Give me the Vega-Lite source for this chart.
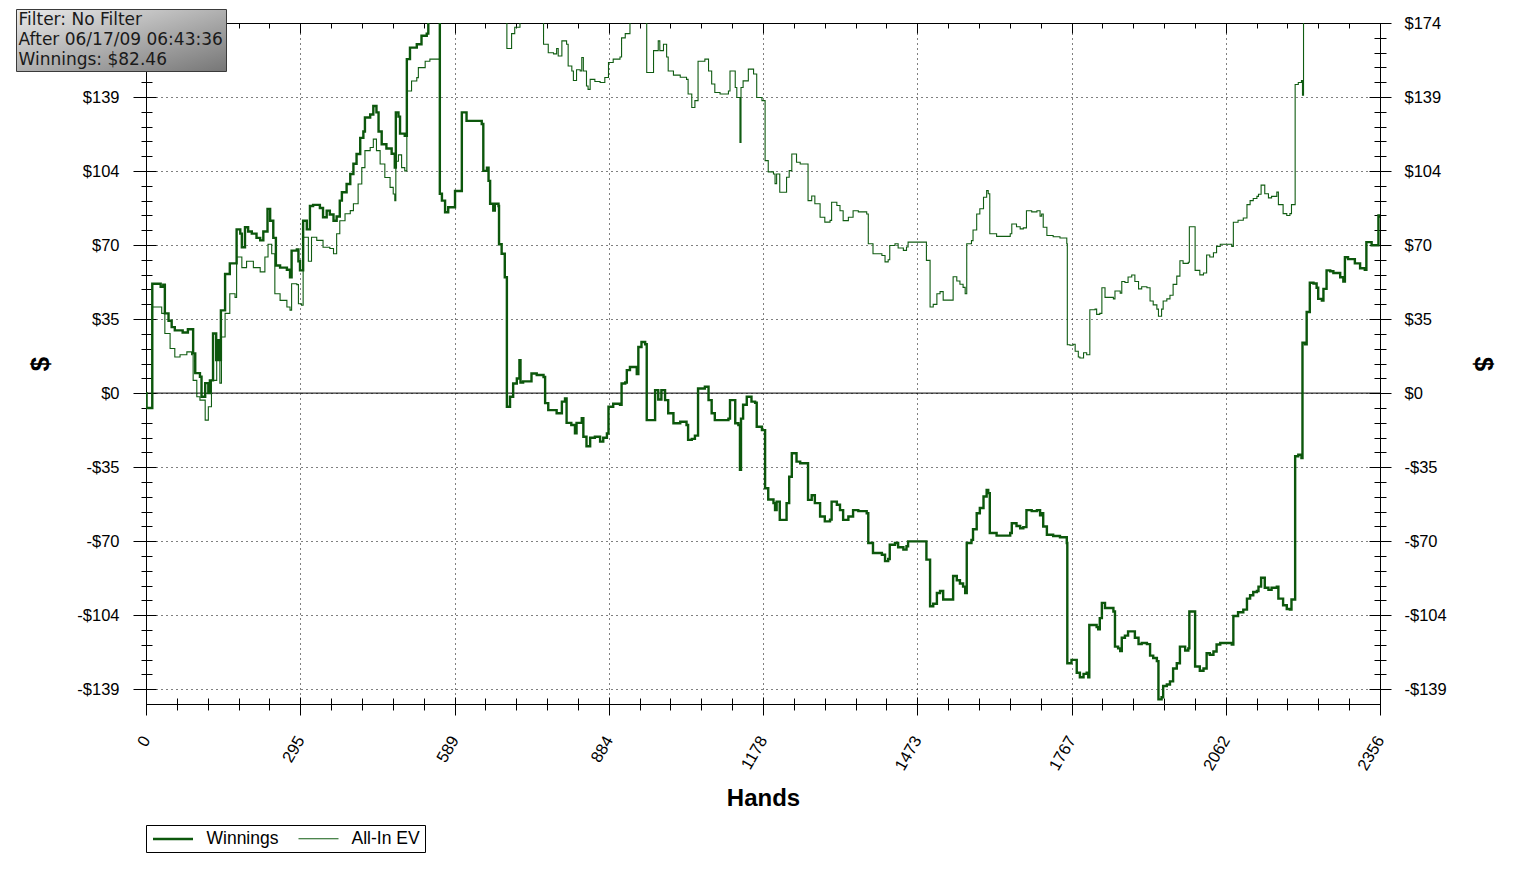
{
  "$schema": "https://vega.github.io/schema/vega-lite/v6.json",
  "width": 1234,
  "height": 681,
  "autosize": {"type": "none"},
  "padding": {"left": 146, "top": 23, "right": 144, "bottom": 170},
  "background": "white",
  "config": {
    "view": {"stroke": "#000", "strokeWidth": 1},
    "axis": {"domain": false, "grid": false, "tickColor": "#000", "tickWidth": 1, "labelFont": "Liberation Sans", "labelFontSize": 16.5, "labelColor": "#000", "labelFlush": false, "labelOverlap": false, "titleFont": "Liberation Sans", "titleFontSize": 24, "titleFontWeight": "bold", "titleColor": "#000"}
  },
  "data": {"values": [
    {"s":"All-In EV","h":0,"v":0},{"s":"All-In EV","h":1,"v":-7},{"s":"All-In EV","h":12,"v":40.5},{"s":"All-In EV","h":30,"v":37.5},{"s":"All-In EV","h":36,"v":28},{"s":"All-In EV","h":46,"v":21},{"s":"All-In EV","h":55,"v":17},{"s":"All-In EV","h":65,"v":18},{"s":"All-In EV","h":78,"v":19.4},{"s":"All-In EV","h":87,"v":18},{"s":"All-In EV","h":90,"v":6},{"s":"All-In EV","h":97,"v":-1.7},{"s":"All-In EV","h":103,"v":-3.3},{"s":"All-In EV","h":113,"v":-12.7},{"s":"All-In EV","h":119,"v":-6.4},{"s":"All-In EV","h":125,"v":6},{"s":"All-In EV","h":135,"v":15.5},{"s":"All-In EV","h":141,"v":4.7},{"s":"All-In EV","h":144,"v":26.4},{"s":"All-In EV","h":151,"v":37.5},{"s":"All-In EV","h":160,"v":46.7},{"s":"All-In EV","h":170,"v":45},{"s":"All-In EV","h":173,"v":64},{"s":"All-In EV","h":183,"v":59},{"s":"All-In EV","h":192,"v":62},{"s":"All-In EV","h":205,"v":59},{"s":"All-In EV","h":218,"v":57},{"s":"All-In EV","h":227,"v":64},{"s":"All-In EV","h":233,"v":70},{"s":"All-In EV","h":240,"v":65.5},{"s":"All-In EV","h":246,"v":46.7},{"s":"All-In EV","h":256,"v":43.6},{"s":"All-In EV","h":269,"v":40.5},{"s":"All-In EV","h":275,"v":39},{"s":"All-In EV","h":278,"v":51.4},{"s":"All-In EV","h":288,"v":51},{"s":"All-In EV","h":291,"v":42},{"s":"All-In EV","h":297,"v":41.3},{"s":"All-In EV","h":300,"v":73.3},{"s":"All-In EV","h":310,"v":62},{"s":"All-In EV","h":316,"v":73.3},{"s":"All-In EV","h":326,"v":71.8},{"s":"All-In EV","h":338,"v":68.6},{"s":"All-In EV","h":351,"v":68},{"s":"All-In EV","h":358,"v":65.5},{"s":"All-In EV","h":364,"v":74.9},{"s":"All-In EV","h":370,"v":81},{"s":"All-In EV","h":380,"v":84.3},{"s":"All-In EV","h":390,"v":85.8},{"s":"All-In EV","h":396,"v":89},{"s":"All-In EV","h":405,"v":98.3},{"s":"All-In EV","h":412,"v":106},{"s":"All-In EV","h":418,"v":114},{"s":"All-In EV","h":428,"v":115.5},{"s":"All-In EV","h":434,"v":119.4},{"s":"All-In EV","h":440,"v":114},{"s":"All-In EV","h":447,"v":107.7},{"s":"All-In EV","h":456,"v":101.4},{"s":"All-In EV","h":466,"v":96.7},{"s":"All-In EV","h":472,"v":93.6},{"s":"All-In EV","h":475,"v":90.5},{"s":"All-In EV","h":477,"v":109},{"s":"All-In EV","h":482,"v":112},{"s":"All-In EV","h":488,"v":106},{"s":"All-In EV","h":494,"v":104.5},{"s":"All-In EV","h":498,"v":142},{"s":"All-In EV","h":507,"v":146.7},{"s":"All-In EV","h":517,"v":148.3},{"s":"All-In EV","h":520,"v":153},{"s":"All-In EV","h":533,"v":156},{"s":"All-In EV","h":542,"v":157},{"s":"All-In EV","h":561,"v":188},{"s":"All-In EV","h":600,"v":196},{"s":"All-In EV","h":640,"v":192},{"s":"All-In EV","h":689,"v":162},{"s":"All-In EV","h":698,"v":169},{"s":"All-In EV","h":704,"v":172},{"s":"All-In EV","h":714,"v":178},{"s":"All-In EV","h":759,"v":164},{"s":"All-In EV","h":768,"v":160},{"s":"All-In EV","h":778,"v":159.5},{"s":"All-In EV","h":784,"v":162},{"s":"All-In EV","h":787,"v":158.5},{"s":"All-In EV","h":794,"v":165.6},{"s":"All-In EV","h":803,"v":164},{"s":"All-In EV","h":806,"v":153.8},{"s":"All-In EV","h":813,"v":151.4},{"s":"All-In EV","h":816,"v":147},{"s":"All-In EV","h":822,"v":152},{"s":"All-In EV","h":829,"v":151.4},{"s":"All-In EV","h":832,"v":157.8},{"s":"All-In EV","h":835,"v":151.4},{"s":"All-In EV","h":841,"v":144.4},{"s":"All-In EV","h":844,"v":142.8},{"s":"All-In EV","h":848,"v":147.5},{"s":"All-In EV","h":857,"v":146.5},{"s":"All-In EV","h":867,"v":146},{"s":"All-In EV","h":876,"v":148.4},{"s":"All-In EV","h":883,"v":155.4},{"s":"All-In EV","h":892,"v":157},{"s":"All-In EV","h":905,"v":158},{"s":"All-In EV","h":908,"v":167},{"s":"All-In EV","h":915,"v":169},{"s":"All-In EV","h":924,"v":178},{"s":"All-In EV","h":956,"v":150.7},{"s":"All-In EV","h":966,"v":150.7},{"s":"All-In EV","h":969,"v":161},{"s":"All-In EV","h":978,"v":165.6},{"s":"All-In EV","h":981,"v":161},{"s":"All-In EV","h":988,"v":164},{"s":"All-In EV","h":994,"v":158},{"s":"All-In EV","h":997,"v":151.4},{"s":"All-In EV","h":1007,"v":149.5},{"s":"All-In EV","h":1020,"v":148.5},{"s":"All-In EV","h":1032,"v":147.5},{"s":"All-In EV","h":1035,"v":140.6},{"s":"All-In EV","h":1042,"v":134.3},{"s":"All-In EV","h":1048,"v":137.5},{"s":"All-In EV","h":1054,"v":156},{"s":"All-In EV","h":1067,"v":157},{"s":"All-In EV","h":1074,"v":151.4},{"s":"All-In EV","h":1080,"v":145.3},{"s":"All-In EV","h":1086,"v":141.3},{"s":"All-In EV","h":1096,"v":140.6},{"s":"All-In EV","h":1112,"v":142},{"s":"All-In EV","h":1115,"v":151.4},{"s":"All-In EV","h":1125,"v":143.7},{"s":"All-In EV","h":1128,"v":139},{"s":"All-In EV","h":1134,"v":117.9},{"s":"All-In EV","h":1136,"v":143.7},{"s":"All-In EV","h":1140,"v":146.8},{"s":"All-In EV","h":1150,"v":152.3},{"s":"All-In EV","h":1160,"v":150},{"s":"All-In EV","h":1166,"v":139},{"s":"All-In EV","h":1176,"v":137.5},{"s":"All-In EV","h":1182,"v":109.3},{"s":"All-In EV","h":1188,"v":104},{"s":"All-In EV","h":1198,"v":103},{"s":"All-In EV","h":1201,"v":98.5},{"s":"All-In EV","h":1204,"v":103},{"s":"All-In EV","h":1210,"v":94.4},{"s":"All-In EV","h":1223,"v":101.5},{"s":"All-In EV","h":1228,"v":104.6},{"s":"All-In EV","h":1233,"v":112.4},{"s":"All-In EV","h":1242,"v":108.5},{"s":"All-In EV","h":1249,"v":107.7},{"s":"All-In EV","h":1264,"v":90.5},{"s":"All-In EV","h":1271,"v":92.7},{"s":"All-In EV","h":1277,"v":89},{"s":"All-In EV","h":1287,"v":82.7},{"s":"All-In EV","h":1296,"v":80.4},{"s":"All-In EV","h":1306,"v":81.2},{"s":"All-In EV","h":1309,"v":89.7},{"s":"All-In EV","h":1319,"v":88.2},{"s":"All-In EV","h":1325,"v":85.7},{"s":"All-In EV","h":1331,"v":81.1},{"s":"All-In EV","h":1341,"v":82.7},{"s":"All-In EV","h":1350,"v":85.7},{"s":"All-In EV","h":1360,"v":85.2},{"s":"All-In EV","h":1376,"v":84.2},{"s":"All-In EV","h":1379,"v":70.2},{"s":"All-In EV","h":1388,"v":65.5},{"s":"All-In EV","h":1405,"v":64.7},{"s":"All-In EV","h":1411,"v":61.7},{"s":"All-In EV","h":1417,"v":62.7},{"s":"All-In EV","h":1420,"v":69.4},{"s":"All-In EV","h":1430,"v":70.2},{"s":"All-In EV","h":1436,"v":68.2},{"s":"All-In EV","h":1446,"v":67.1},{"s":"All-In EV","h":1452,"v":68.7},{"s":"All-In EV","h":1455,"v":71},{"s":"All-In EV","h":1490,"v":62.4},{"s":"All-In EV","h":1497,"v":40.5},{"s":"All-In EV","h":1503,"v":41.7},{"s":"All-In EV","h":1510,"v":46.7},{"s":"All-In EV","h":1516,"v":47.7},{"s":"All-In EV","h":1522,"v":43.7},{"s":"All-In EV","h":1541,"v":54.7},{"s":"All-In EV","h":1548,"v":52.7},{"s":"All-In EV","h":1554,"v":51.2},{"s":"All-In EV","h":1560,"v":49.7},{"s":"All-In EV","h":1564,"v":46.7},{"s":"All-In EV","h":1567,"v":70.2},{"s":"All-In EV","h":1576,"v":71.7},{"s":"All-In EV","h":1579,"v":76.7},{"s":"All-In EV","h":1586,"v":84.2},{"s":"All-In EV","h":1592,"v":86.7},{"s":"All-In EV","h":1599,"v":92.1},{"s":"All-In EV","h":1605,"v":95.2},{"s":"All-In EV","h":1608,"v":93.7},{"s":"All-In EV","h":1611,"v":74.9},{"s":"All-In EV","h":1624,"v":73.7},{"s":"All-In EV","h":1643,"v":73.7},{"s":"All-In EV","h":1650,"v":74.9},{"s":"All-In EV","h":1653,"v":79.5},{"s":"All-In EV","h":1662,"v":78.2},{"s":"All-In EV","h":1669,"v":77.2},{"s":"All-In EV","h":1675,"v":77.7},{"s":"All-In EV","h":1681,"v":85.7},{"s":"All-In EV","h":1691,"v":85.2},{"s":"All-In EV","h":1701,"v":85.7},{"s":"All-In EV","h":1707,"v":83.2},{"s":"All-In EV","h":1710,"v":84.2},{"s":"All-In EV","h":1713,"v":78},{"s":"All-In EV","h":1720,"v":74.1},{"s":"All-In EV","h":1732,"v":73.5},{"s":"All-In EV","h":1745,"v":72.9},{"s":"All-In EV","h":1758,"v":70.2},{"s":"All-In EV","h":1759,"v":22.7},{"s":"All-In EV","h":1764,"v":22.5},{"s":"All-In EV","h":1770,"v":23},{"s":"All-In EV","h":1774,"v":19.7},{"s":"All-In EV","h":1780,"v":17},{"s":"All-In EV","h":1783,"v":16.5},{"s":"All-In EV","h":1790,"v":19},{"s":"All-In EV","h":1796,"v":18},{"s":"All-In EV","h":1802,"v":39.2},{"s":"All-In EV","h":1812,"v":39.5},{"s":"All-In EV","h":1815,"v":37},{"s":"All-In EV","h":1821,"v":37.5},{"s":"All-In EV","h":1825,"v":49.5},{"s":"All-In EV","h":1831,"v":45},{"s":"All-In EV","h":1847,"v":44.3},{"s":"All-In EV","h":1850,"v":48},{"s":"All-In EV","h":1860,"v":47},{"s":"All-In EV","h":1863,"v":52.5},{"s":"All-In EV","h":1869,"v":52},{"s":"All-In EV","h":1875,"v":54.6},{"s":"All-In EV","h":1882,"v":55.5},{"s":"All-In EV","h":1888,"v":52.5},{"s":"All-In EV","h":1895,"v":49},{"s":"All-In EV","h":1901,"v":50},{"s":"All-In EV","h":1911,"v":49.5},{"s":"All-In EV","h":1917,"v":43.3},{"s":"All-In EV","h":1923,"v":41.5},{"s":"All-In EV","h":1930,"v":39.5},{"s":"All-In EV","h":1933,"v":36.1},{"s":"All-In EV","h":1939,"v":39.5},{"s":"All-In EV","h":1942,"v":43.3},{"s":"All-In EV","h":1949,"v":44.3},{"s":"All-In EV","h":1955,"v":46},{"s":"All-In EV","h":1961,"v":51.1},{"s":"All-In EV","h":1968,"v":55},{"s":"All-In EV","h":1974,"v":62.2},{"s":"All-In EV","h":1980,"v":61},{"s":"All-In EV","h":1990,"v":61.5},{"s":"All-In EV","h":1992,"v":78.2},{"s":"All-In EV","h":2000,"v":78.2},{"s":"All-In EV","h":2003,"v":57.7},{"s":"All-In EV","h":2012,"v":55.6},{"s":"All-In EV","h":2019,"v":56.5},{"s":"All-In EV","h":2025,"v":64.9},{"s":"All-In EV","h":2031,"v":64},{"s":"All-In EV","h":2038,"v":66},{"s":"All-In EV","h":2044,"v":69},{"s":"All-In EV","h":2051,"v":70},{"s":"All-In EV","h":2073,"v":69},{"s":"All-In EV","h":2076,"v":80.3},{"s":"All-In EV","h":2085,"v":81.3},{"s":"All-In EV","h":2095,"v":82.3},{"s":"All-In EV","h":2102,"v":88.6},{"s":"All-In EV","h":2108,"v":90.5},{"s":"All-In EV","h":2114,"v":91.5},{"s":"All-In EV","h":2121,"v":92.5},{"s":"All-In EV","h":2124,"v":93.5},{"s":"All-In EV","h":2129,"v":97.8},{"s":"All-In EV","h":2136,"v":93.7},{"s":"All-In EV","h":2143,"v":91.8},{"s":"All-In EV","h":2149,"v":92.5},{"s":"All-In EV","h":2159,"v":94.5},{"s":"All-In EV","h":2162,"v":88.6},{"s":"All-In EV","h":2171,"v":84.4},{"s":"All-In EV","h":2178,"v":83.5},{"s":"All-In EV","h":2184,"v":84.4},{"s":"All-In EV","h":2187,"v":88.6},{"s":"All-In EV","h":2194,"v":145.1},{"s":"All-In EV","h":2200,"v":146},{"s":"All-In EV","h":2206,"v":147},{"s":"All-In EV","h":2208,"v":140},{"s":"All-In EV","h":2210,"v":199},{"s":"All-In EV","h":2216,"v":213},{"s":"All-In EV","h":2222,"v":227},{"s":"All-In EV","h":2235,"v":224.5},{"s":"All-In EV","h":2238,"v":219},{"s":"All-In EV","h":2248,"v":224},{"s":"All-In EV","h":2254,"v":232.7},{"s":"All-In EV","h":2280,"v":229.5},{"s":"All-In EV","h":2289,"v":239},{"s":"All-In EV","h":2318,"v":233.7},{"s":"All-In EV","h":2330,"v":246},{"s":"All-In EV","h":2353,"v":258.5},{"s":"All-In EV","h":2356,"v":257.5},
    {"s":"Winnings","h":0,"v":0},{"s":"Winnings","h":1,"v":-7},{"s":"Winnings","h":12,"v":51.4},{"s":"Winnings","h":28,"v":50},{"s":"Winnings","h":33,"v":51},{"s":"Winnings","h":36,"v":37.5},{"s":"Winnings","h":43,"v":34},{"s":"Winnings","h":49,"v":31},{"s":"Winnings","h":55,"v":29.5},{"s":"Winnings","h":70,"v":28.5},{"s":"Winnings","h":80,"v":30},{"s":"Winnings","h":90,"v":18.7},{"s":"Winnings","h":94,"v":9.4},{"s":"Winnings","h":103,"v":7.7},{"s":"Winnings","h":106,"v":-1.7},{"s":"Winnings","h":113,"v":4.7},{"s":"Winnings","h":119,"v":0},{"s":"Winnings","h":122,"v":6},{"s":"Winnings","h":128,"v":28},{"s":"Winnings","h":134,"v":15.5},{"s":"Winnings","h":138,"v":24.9},{"s":"Winnings","h":141,"v":15.5},{"s":"Winnings","h":143,"v":38.9},{"s":"Winnings","h":151,"v":56},{"s":"Winnings","h":160,"v":61},{"s":"Winnings","h":173,"v":77},{"s":"Winnings","h":180,"v":75},{"s":"Winnings","h":183,"v":68.6},{"s":"Winnings","h":189,"v":78},{"s":"Winnings","h":195,"v":76},{"s":"Winnings","h":202,"v":75},{"s":"Winnings","h":211,"v":73},{"s":"Winnings","h":218,"v":71.8},{"s":"Winnings","h":224,"v":76},{"s":"Winnings","h":232,"v":86.6},{"s":"Winnings","h":237,"v":81},{"s":"Winnings","h":243,"v":73},{"s":"Winnings","h":248,"v":60},{"s":"Winnings","h":256,"v":59},{"s":"Winnings","h":269,"v":58},{"s":"Winnings","h":275,"v":54.5},{"s":"Winnings","h":278,"v":67},{"s":"Winnings","h":288,"v":67.5},{"s":"Winnings","h":291,"v":62},{"s":"Winnings","h":294,"v":57.7},{"s":"Winnings","h":300,"v":81},{"s":"Winnings","h":307,"v":77},{"s":"Winnings","h":313,"v":88},{"s":"Winnings","h":319,"v":88.5},{"s":"Winnings","h":332,"v":87},{"s":"Winnings","h":338,"v":82.7},{"s":"Winnings","h":345,"v":85.8},{"s":"Winnings","h":351,"v":84},{"s":"Winnings","h":358,"v":81},{"s":"Winnings","h":364,"v":83},{"s":"Winnings","h":370,"v":90.5},{"s":"Winnings","h":374,"v":94.4},{"s":"Winnings","h":383,"v":98.3},{"s":"Winnings","h":390,"v":103},{"s":"Winnings","h":396,"v":107.8},{"s":"Winnings","h":402,"v":112.4},{"s":"Winnings","h":409,"v":120},{"s":"Winnings","h":415,"v":123},{"s":"Winnings","h":418,"v":129.6},{"s":"Winnings","h":428,"v":131},{"s":"Winnings","h":434,"v":135},{"s":"Winnings","h":440,"v":132},{"s":"Winnings","h":444,"v":123},{"s":"Winnings","h":450,"v":117},{"s":"Winnings","h":459,"v":115},{"s":"Winnings","h":469,"v":112.5},{"s":"Winnings","h":475,"v":106},{"s":"Winnings","h":477,"v":132},{"s":"Winnings","h":482,"v":130},{"s":"Winnings","h":485,"v":122},{"s":"Winnings","h":494,"v":121},{"s":"Winnings","h":498,"v":157},{"s":"Winnings","h":504,"v":162.4},{"s":"Winnings","h":517,"v":164},{"s":"Winnings","h":526,"v":168},{"s":"Winnings","h":536,"v":169},{"s":"Winnings","h":539,"v":176},{"s":"Winnings","h":545,"v":182},{"s":"Winnings","h":552,"v":186},{"s":"Winnings","h":561,"v":93.7},{"s":"Winnings","h":565,"v":90.5},{"s":"Winnings","h":571,"v":85},{"s":"Winnings","h":577,"v":87.4},{"s":"Winnings","h":590,"v":95},{"s":"Winnings","h":603,"v":132},{"s":"Winnings","h":612,"v":128},{"s":"Winnings","h":641,"v":126.5},{"s":"Winnings","h":644,"v":104.5},{"s":"Winnings","h":651,"v":106},{"s":"Winnings","h":654,"v":99.8},{"s":"Winnings","h":657,"v":89},{"s":"Winnings","h":663,"v":85.8},{"s":"Winnings","h":666,"v":89},{"s":"Winnings","h":673,"v":88},{"s":"Winnings","h":674,"v":70},{"s":"Winnings","h":679,"v":65.5},{"s":"Winnings","h":685,"v":54.5},{"s":"Winnings","h":689,"v":-6.4},{"s":"Winnings","h":695,"v":-1.7},{"s":"Winnings","h":701,"v":4.5},{"s":"Winnings","h":708,"v":6.9},{"s":"Winnings","h":713,"v":15.5},{"s":"Winnings","h":715,"v":5},{"s":"Winnings","h":720,"v":5.5},{"s":"Winnings","h":736,"v":9.2},{"s":"Winnings","h":746,"v":8.5},{"s":"Winnings","h":759,"v":7.6},{"s":"Winnings","h":762,"v":-4.7},{"s":"Winnings","h":768,"v":-8},{"s":"Winnings","h":784,"v":-9.5},{"s":"Winnings","h":794,"v":-4},{"s":"Winnings","h":800,"v":-2.5},{"s":"Winnings","h":803,"v":-14},{"s":"Winnings","h":812,"v":-15},{"s":"Winnings","h":819,"v":-18.9},{"s":"Winnings","h":822,"v":-14},{"s":"Winnings","h":832,"v":-11.8},{"s":"Winnings","h":835,"v":-20.5},{"s":"Winnings","h":841,"v":-25},{"s":"Winnings","h":848,"v":-21},{"s":"Winnings","h":857,"v":-20.5},{"s":"Winnings","h":867,"v":-22.8},{"s":"Winnings","h":873,"v":-21},{"s":"Winnings","h":880,"v":-19},{"s":"Winnings","h":883,"v":-6.4},{"s":"Winnings","h":892,"v":-5},{"s":"Winnings","h":905,"v":-5.5},{"s":"Winnings","h":908,"v":4.5},{"s":"Winnings","h":915,"v":5},{"s":"Winnings","h":918,"v":10.8},{"s":"Winnings","h":924,"v":12.3},{"s":"Winnings","h":934,"v":12.3},{"s":"Winnings","h":937,"v":9},{"s":"Winnings","h":940,"v":21.7},{"s":"Winnings","h":946,"v":24},{"s":"Winnings","h":953,"v":23},{"s":"Winnings","h":956,"v":-12.7},{"s":"Winnings","h":969,"v":-12.7},{"s":"Winnings","h":972,"v":1.4},{"s":"Winnings","h":978,"v":-3},{"s":"Winnings","h":984,"v":1.4},{"s":"Winnings","h":991,"v":-3.3},{"s":"Winnings","h":997,"v":-9.5},{"s":"Winnings","h":1007,"v":-14.2},{"s":"Winnings","h":1020,"v":-13.5},{"s":"Winnings","h":1032,"v":-15},{"s":"Winnings","h":1035,"v":-22},{"s":"Winnings","h":1042,"v":-21.5},{"s":"Winnings","h":1048,"v":-20},{"s":"Winnings","h":1054,"v":2.2},{"s":"Winnings","h":1067,"v":3},{"s":"Winnings","h":1074,"v":-3.3},{"s":"Winnings","h":1080,"v":-9.5},{"s":"Winnings","h":1086,"v":-12.7},{"s":"Winnings","h":1112,"v":-12},{"s":"Winnings","h":1115,"v":-3.3},{"s":"Winnings","h":1121,"v":-3.3},{"s":"Winnings","h":1125,"v":-14.2},{"s":"Winnings","h":1131,"v":-15},{"s":"Winnings","h":1134,"v":-36},{"s":"Winnings","h":1136,"v":-12},{"s":"Winnings","h":1140,"v":-5.5},{"s":"Winnings","h":1147,"v":-1.7},{"s":"Winnings","h":1156,"v":-4},{"s":"Winnings","h":1163,"v":-4.5},{"s":"Winnings","h":1166,"v":-15.8},{"s":"Winnings","h":1176,"v":-17.4},{"s":"Winnings","h":1182,"v":-44.7},{"s":"Winnings","h":1188,"v":-50},{"s":"Winnings","h":1198,"v":-51.7},{"s":"Winnings","h":1201,"v":-55},{"s":"Winnings","h":1204,"v":-51},{"s":"Winnings","h":1210,"v":-59.6},{"s":"Winnings","h":1223,"v":-51.7},{"s":"Winnings","h":1228,"v":-39.3},{"s":"Winnings","h":1233,"v":-28.3},{"s":"Winnings","h":1242,"v":-32.2},{"s":"Winnings","h":1249,"v":-33},{"s":"Winnings","h":1264,"v":-50.2},{"s":"Winnings","h":1271,"v":-48},{"s":"Winnings","h":1277,"v":-51.7},{"s":"Winnings","h":1287,"v":-58},{"s":"Winnings","h":1296,"v":-60.3},{"s":"Winnings","h":1306,"v":-59.5},{"s":"Winnings","h":1309,"v":-51},{"s":"Winnings","h":1319,"v":-52.5},{"s":"Winnings","h":1325,"v":-55},{"s":"Winnings","h":1331,"v":-59.6},{"s":"Winnings","h":1341,"v":-58},{"s":"Winnings","h":1350,"v":-55},{"s":"Winnings","h":1360,"v":-55.5},{"s":"Winnings","h":1376,"v":-56.5},{"s":"Winnings","h":1379,"v":-70.5},{"s":"Winnings","h":1388,"v":-75.2},{"s":"Winnings","h":1405,"v":-76},{"s":"Winnings","h":1411,"v":-79},{"s":"Winnings","h":1417,"v":-78},{"s":"Winnings","h":1420,"v":-71.3},{"s":"Winnings","h":1430,"v":-70.5},{"s":"Winnings","h":1436,"v":-72.5},{"s":"Winnings","h":1446,"v":-73.6},{"s":"Winnings","h":1452,"v":-72},{"s":"Winnings","h":1455,"v":-69.7},{"s":"Winnings","h":1490,"v":-78.3},{"s":"Winnings","h":1497,"v":-100.2},{"s":"Winnings","h":1503,"v":-99},{"s":"Winnings","h":1510,"v":-94},{"s":"Winnings","h":1516,"v":-93},{"s":"Winnings","h":1522,"v":-97},{"s":"Winnings","h":1541,"v":-86},{"s":"Winnings","h":1548,"v":-88},{"s":"Winnings","h":1554,"v":-89.5},{"s":"Winnings","h":1560,"v":-91},{"s":"Winnings","h":1564,"v":-94},{"s":"Winnings","h":1567,"v":-70.5},{"s":"Winnings","h":1576,"v":-69},{"s":"Winnings","h":1579,"v":-64},{"s":"Winnings","h":1586,"v":-56.5},{"s":"Winnings","h":1592,"v":-54},{"s":"Winnings","h":1599,"v":-48.6},{"s":"Winnings","h":1605,"v":-45.5},{"s":"Winnings","h":1608,"v":-47},{"s":"Winnings","h":1611,"v":-65.8},{"s":"Winnings","h":1624,"v":-67},{"s":"Winnings","h":1643,"v":-67},{"s":"Winnings","h":1650,"v":-65.8},{"s":"Winnings","h":1653,"v":-61.2},{"s":"Winnings","h":1662,"v":-62.5},{"s":"Winnings","h":1669,"v":-63.5},{"s":"Winnings","h":1675,"v":-63},{"s":"Winnings","h":1681,"v":-55},{"s":"Winnings","h":1691,"v":-55.5},{"s":"Winnings","h":1701,"v":-55},{"s":"Winnings","h":1707,"v":-57.5},{"s":"Winnings","h":1710,"v":-56.5},{"s":"Winnings","h":1713,"v":-62.7},{"s":"Winnings","h":1720,"v":-66.6},{"s":"Winnings","h":1732,"v":-67.2},{"s":"Winnings","h":1745,"v":-67.8},{"s":"Winnings","h":1758,"v":-70.5},{"s":"Winnings","h":1759,"v":-127},{"s":"Winnings","h":1767,"v":-125.4},{"s":"Winnings","h":1777,"v":-131.5},{"s":"Winnings","h":1783,"v":-133.6},{"s":"Winnings","h":1790,"v":-132},{"s":"Winnings","h":1796,"v":-131.5},{"s":"Winnings","h":1799,"v":-133.6},{"s":"Winnings","h":1801,"v":-109},{"s":"Winnings","h":1815,"v":-110},{"s":"Winnings","h":1818,"v":-111},{"s":"Winnings","h":1821,"v":-105.8},{"s":"Winnings","h":1825,"v":-98.6},{"s":"Winnings","h":1831,"v":-101},{"s":"Winnings","h":1847,"v":-102.7},{"s":"Winnings","h":1850,"v":-119.2},{"s":"Winnings","h":1856,"v":-120},{"s":"Winnings","h":1860,"v":-121.3},{"s":"Winnings","h":1863,"v":-115},{"s":"Winnings","h":1869,"v":-114},{"s":"Winnings","h":1875,"v":-112},{"s":"Winnings","h":1882,"v":-112},{"s":"Winnings","h":1888,"v":-115},{"s":"Winnings","h":1895,"v":-118},{"s":"Winnings","h":1901,"v":-117.5},{"s":"Winnings","h":1911,"v":-118},{"s":"Winnings","h":1917,"v":-123.4},{"s":"Winnings","h":1923,"v":-124.5},{"s":"Winnings","h":1930,"v":-126},{"s":"Winnings","h":1933,"v":-144},{"s":"Winnings","h":1939,"v":-143},{"s":"Winnings","h":1942,"v":-137.7},{"s":"Winnings","h":1949,"v":-137},{"s":"Winnings","h":1955,"v":-135.5},{"s":"Winnings","h":1961,"v":-129.5},{"s":"Winnings","h":1968,"v":-127},{"s":"Winnings","h":1974,"v":-119.2},{"s":"Winnings","h":1984,"v":-121},{"s":"Winnings","h":1990,"v":-120},{"s":"Winnings","h":1992,"v":-102.7},{"s":"Winnings","h":2000,"v":-102.7},{"s":"Winnings","h":2003,"v":-128.5},{"s":"Winnings","h":2012,"v":-130.5},{"s":"Winnings","h":2019,"v":-129.5},{"s":"Winnings","h":2025,"v":-122.3},{"s":"Winnings","h":2031,"v":-123},{"s":"Winnings","h":2038,"v":-121.5},{"s":"Winnings","h":2044,"v":-118.2},{"s":"Winnings","h":2051,"v":-117.5},{"s":"Winnings","h":2073,"v":-118.2},{"s":"Winnings","h":2076,"v":-104.8},{"s":"Winnings","h":2085,"v":-103},{"s":"Winnings","h":2095,"v":-101.8},{"s":"Winnings","h":2102,"v":-96.6},{"s":"Winnings","h":2108,"v":-95},{"s":"Winnings","h":2114,"v":-93.5},{"s":"Winnings","h":2121,"v":-93},{"s":"Winnings","h":2124,"v":-91},{"s":"Winnings","h":2129,"v":-86.8},{"s":"Winnings","h":2136,"v":-91.5},{"s":"Winnings","h":2143,"v":-92.5},{"s":"Winnings","h":2149,"v":-91.5},{"s":"Winnings","h":2159,"v":-91},{"s":"Winnings","h":2162,"v":-96.6},{"s":"Winnings","h":2171,"v":-99.7},{"s":"Winnings","h":2178,"v":-101.5},{"s":"Winnings","h":2184,"v":-101.8},{"s":"Winnings","h":2187,"v":-97},{"s":"Winnings","h":2194,"v":-29.7},{"s":"Winnings","h":2200,"v":-29},{"s":"Winnings","h":2206,"v":-30.5},{"s":"Winnings","h":2208,"v":23.7},{"s":"Winnings","h":2213,"v":23},{"s":"Winnings","h":2216,"v":38.1},{"s":"Winnings","h":2222,"v":51.9},{"s":"Winnings","h":2229,"v":51.5},{"s":"Winnings","h":2235,"v":49.5},{"s":"Winnings","h":2238,"v":44.3},{"s":"Winnings","h":2245,"v":43.5},{"s":"Winnings","h":2248,"v":49},{"s":"Winnings","h":2254,"v":57.7},{"s":"Winnings","h":2261,"v":57.3},{"s":"Winnings","h":2267,"v":56.5},{"s":"Winnings","h":2280,"v":54.5},{"s":"Winnings","h":2286,"v":52.5},{"s":"Winnings","h":2289,"v":63.9},{"s":"Winnings","h":2295,"v":63},{"s":"Winnings","h":2302,"v":63},{"s":"Winnings","h":2308,"v":61},{"s":"Winnings","h":2318,"v":58.7},{"s":"Winnings","h":2327,"v":58},{"s":"Winnings","h":2330,"v":71},{"s":"Winnings","h":2340,"v":69.5},{"s":"Winnings","h":2350,"v":69.5},{"s":"Winnings","h":2353,"v":83.5},{"s":"Winnings","h":2356,"v":82.46}
  ]},
  "layer": [
    {
      "data": {"values": [{"zero": 0}]},
      "mark": {"type": "rule", "color": "#000", "strokeWidth": 1},
      "encoding": {
        "y": {"field": "zero", "type": "quantitative", "axis": null}
      }
    },
    {
      "mark": {"type": "line", "interpolate": "step-after", "clip": true},
      "encoding": {
        "x": {
          "field": "h", "type": "quantitative",
          "scale": {"domain": [0, 2356], "nice": false, "zero": false},
          "axis": {
            "orient": "bottom", "title": "Hands",
            "values": [0, 294.5, 589, 883.5, 1178, 1472.5, 1767, 2061.5, 2356],
            "format": ".0f", "labelAngle": -60, "labelAlign": "right", "labelBaseline": "middle",
            "tickSize": 11, "labelPadding": 22,
            "grid": true, "gridColor": "#000", "gridDash": [1, 4], "gridWidth": 1,
            "titleX": 617, "titleY": 101, "titleBaseline": "alphabetic", "titleAlign": "center",
            "encoding": {"ticks": {"y": {"value": -7}}}
          }
        },
        "y": {
          "field": "v", "type": "quantitative",
          "scale": {"domain": [-146.16, 174], "nice": false, "zero": false},
          "axis": {
            "orient": "left", "title": "$",
            "values": [-139.2, -104.4, -69.6, -34.8, 0, 34.8, 69.6, 104.4, 139.2, 174],
            "labelExpr": "datum.value > 170 ? '' : datum.value < 0 ? '-$' + format(-datum.value, '.0f') : '$' + format(datum.value, '.0f')",
            "tickSize": 13, "labelPadding": 14,
            "grid": true, "gridColor": "#000", "gridDash": [1, 4], "gridWidth": 1,
            "titleX": -106, "titleY": 340.5, "titleAngle": -90, "titleBaseline": "middle", "titleAlign": "center", "titleFontSize": 26,
            "encoding": {"ticks": {"x": {"value": 10}}}
          }
        },
        "color": {
          "field": "s", "type": "nominal",
          "scale": {"domain": ["Winnings", "All-In EV"], "range": ["#0c570c", "#105c12"]},
          "legend": {
            "orient": "none", "legendX": 0, "legendY": 802, "direction": "horizontal", "title": null,
            "fillColor": "#fff", "strokeColor": "#000", "padding": 4.5,
            "symbolType": "M-2.5,0H2.5", "symbolSize": 256, "symbolOffset": 13,
            "labelFont": "Liberation Sans", "labelFontSize": 17.5, "labelColor": "#000",
            "labelOffset": 24, "columnPadding": 17, "zindex": 2,
            "labelExpr": "datum.label == 'All-In EV' ? 'All-In EV\u00a0\u00a0\u00a0' : datum.label"
          }
        },
        "strokeWidth": {
          "field": "s", "type": "nominal",
          "scale": {"domain": ["Winnings", "All-In EV"], "range": [2.4, 1.1]},
          "legend": {
            "orient": "none", "legendX": 0, "legendY": 802, "direction": "horizontal", "title": null,
            "fillColor": "#fff", "strokeColor": "#000", "padding": 4.5,
            "symbolType": "M-2.5,0H2.5", "symbolSize": 256, "symbolOffset": 13,
            "labelFont": "Liberation Sans", "labelFontSize": 17.5, "labelColor": "#000",
            "labelOffset": 24, "columnPadding": 17, "zindex": 2,
            "labelExpr": "datum.label == 'All-In EV' ? 'All-In EV\u00a0\u00a0\u00a0' : datum.label"
          }
        }
      }
    },
    {
      "mark": {"type": "point", "opacity": 0, "size": 0},
      "encoding": {
        "x": {
          "field": "h", "type": "quantitative",
          "axis": {
            "orient": "bottom", "title": null, "labels": false,
            "values": [0, 58.9, 117.8, 176.7, 235.6, 294.5, 353.4, 412.3, 471.2, 530.1, 589, 647.9, 706.8, 765.7, 824.6, 883.5, 942.4, 1001.3, 1060.2, 1119.1, 1178, 1236.9, 1295.8, 1354.7, 1413.6, 1472.5, 1531.4, 1590.3, 1649.2, 1708.1, 1767, 1825.9, 1884.8, 1943.7, 2002.6, 2061.5, 2120.4, 2179.3, 2238.2, 2297.1, 2356],
            "tickSize": 6,
            "encoding": {"ticks": {"y": {"value": -6}}}
          }
        },
        "y": {
          "field": "v", "type": "quantitative",
          "axis": {
            "orient": "left", "title": null, "labels": false,
            "values": [-139.2, -132.24, -125.28, -118.32, -111.36, -104.4, -97.44, -90.48, -83.52, -76.56, -69.6, -62.64, -55.68, -48.72, -41.76, -34.8, -27.84, -20.88, -13.92, -6.96, 0, 6.96, 13.92, 20.88, 27.84, 34.8, 41.76, 48.72, 55.68, 62.64, 69.6, 76.56, 83.52, 90.48, 97.44, 104.4, 111.36, 118.32, 125.28, 132.24, 139.2, 146.16, 153.12, 160.08, 167.04, 174],
            "tickSize": 5,
            "encoding": {"ticks": {"x": {"value": 6}}}
          }
        },
        "shape": {
          "datum": "Filter: No Filter", "type": "nominal",
          "scale": {"domain": ["Filter: No Filter", "After 06/17/09 06:43:36", "Winnings: $82.46"]},
          "legend": {
            "orient": "none", "legendX": -130, "legendY": -14, "direction": "vertical", "title": null,
            "strokeColor": "#3a3a3a", "padding": 2.5,
            "symbolSize": 1, "symbolOpacity": 0, "symbolStrokeWidth": 0, "symbolFillColor": "transparent",
            "labelOffset": -17, "labelFont": "DejaVu Sans", "labelFontSize": 17, "labelColor": "#1a1a1a",
            "labelLimit": 400, "rowPadding": 1.9, "zindex": 3,
            "encoding": {
              "legend": {"fill": {"value": {"gradient": "linear", "x1": 0, "y1": 0, "x2": 1, "y2": 1, "stops": [{"offset": 0, "color": "#ebebeb"}, {"offset": 1, "color": "#767676"}]}}}
            }
          }
        }
      }
    },
    {
      "mark": {"type": "point", "opacity": 0, "size": 0},
      "encoding": {
        "x": {
          "field": "h", "type": "quantitative",
          "axis": {
            "orient": "top", "title": null, "labels": false,
            "values": [0, 294.5, 589, 883.5, 1178, 1472.5, 1767, 2061.5, 2356],
            "tickSize": 1,
            "encoding": {"ticks": {"y2": {"value": 10}}}
          }
        },
        "y": {
          "field": "v", "type": "quantitative",
          "axis": {
            "orient": "right", "title": "$",
            "values": [-139.2, -104.4, -69.6, -34.8, 0, 34.8, 69.6, 104.4, 139.2, 174],
            "labelExpr": "datum.value < 0 ? '-$' + format(-datum.value, '.0f') : '$' + format(datum.value, '.0f')",
            "tickSize": 11, "labelPadding": 13,
            "titleX": 102, "titleY": 340.5, "titleAngle": 90, "titleBaseline": "middle", "titleAlign": "center", "titleFontSize": 26,
            "encoding": {"ticks": {"x": {"value": -11}}}
          }
        }
      }
    },
    {
      "mark": {"type": "point", "opacity": 0, "size": 0},
      "encoding": {
        "x": {
          "field": "h", "type": "quantitative",
          "axis": {
            "orient": "top", "title": null, "labels": false,
            "values": [0, 58.9, 117.8, 176.7, 235.6, 294.5, 353.4, 412.3, 471.2, 530.1, 589, 647.9, 706.8, 765.7, 824.6, 883.5, 942.4, 1001.3, 1060.2, 1119.1, 1178, 1236.9, 1295.8, 1354.7, 1413.6, 1472.5, 1531.4, 1590.3, 1649.2, 1708.1, 1767, 1825.9, 1884.8, 1943.7, 2002.6, 2061.5, 2120.4, 2179.3, 2238.2, 2297.1, 2356],
            "tickSize": 1,
            "encoding": {"ticks": {"y2": {"value": 5}}}
          }
        },
        "y": {
          "field": "v", "type": "quantitative",
          "axis": {
            "orient": "right", "title": null, "labels": false,
            "values": [-139.2, -132.24, -125.28, -118.32, -111.36, -104.4, -97.44, -90.48, -83.52, -76.56, -69.6, -62.64, -55.68, -48.72, -41.76, -34.8, -27.84, -20.88, -13.92, -6.96, 0, 6.96, 13.92, 20.88, 27.84, 34.8, 41.76, 48.72, 55.68, 62.64, 69.6, 76.56, 83.52, 90.48, 97.44, 104.4, 111.36, 118.32, 125.28, 132.24, 139.2, 146.16, 153.12, 160.08, 167.04, 174],
            "tickSize": 6,
            "encoding": {"ticks": {"x": {"value": -6}}}
          }
        }
      }
    }
  ],
  "resolve": {"axis": {"x": "independent", "y": "independent"}}
}
